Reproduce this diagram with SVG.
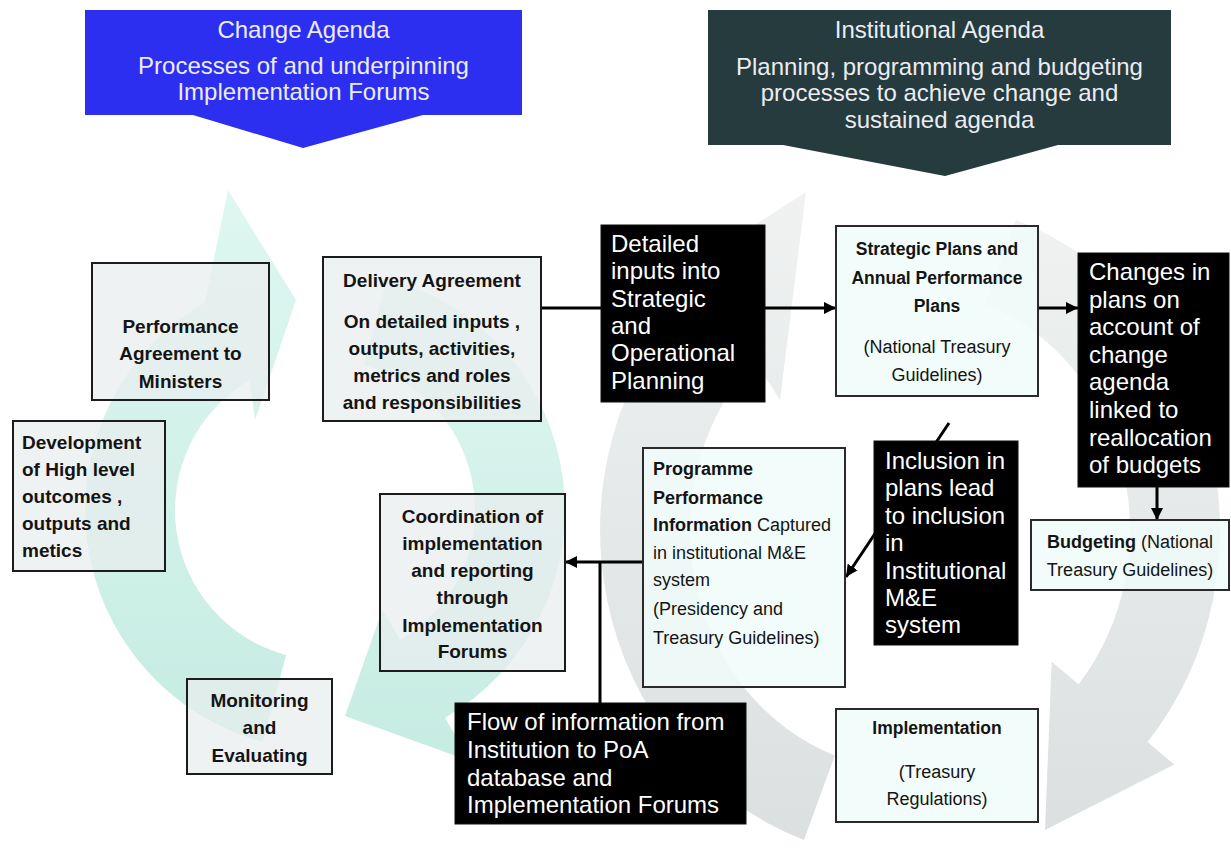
<svg xmlns="http://www.w3.org/2000/svg" width="1231" height="852" viewBox="0 0 1231 852">
<style>
text{font-family:"Liberation Sans",Arial,sans-serif}
.lb{font-size:19px;font-weight:bold;fill:#141414;text-anchor:middle}
.lbs{font-size:19px;font-weight:bold;fill:#141414}
.rb{font-size:17.5px;font-weight:bold;fill:#141414;text-anchor:middle}
.rr{font-size:18px;fill:#141414;text-anchor:middle}
.pr{font-size:18px;fill:#141414}
.wt{font-size:24px;fill:#ffffff}
.bn{font-size:24px;fill:#ececf4;text-anchor:middle}
.lbox{fill:#e9edee;fill-opacity:0.72;stroke:#1c1c1c;stroke-width:2}
.rbox{fill:#f0fbf9;fill-opacity:0.85;stroke:#2a2a2a;stroke-width:2}
.kbox{fill:#000;stroke:#111;stroke-width:1}
.conn{stroke:#000;stroke-width:3;fill:none}
</style>
<defs>
<marker id="ah" markerUnits="userSpaceOnUse" markerWidth="14" markerHeight="12" refX="12" refY="6" orient="auto">
<path d="M0,0 L12,6 L0,12 z" fill="#000"/>
</marker>
<linearGradient id="mint" x1="0" y1="0" x2="0" y2="1">
<stop offset="0" stop-color="#def7f1"/>
<stop offset="1" stop-color="#c6ece2"/>
</linearGradient>
<linearGradient id="grey" x1="0" y1="0" x2="0" y2="1">
<stop offset="0" stop-color="#f0f2f2"/>
<stop offset="1" stop-color="#dce0e0"/>
</linearGradient>
</defs>
<rect width="1231" height="852" fill="#ffffff"/>
<g id="background">
<path d="M286.2 654.9 L262.9 741.8 A240 240 0 0 1 205 302.2 L228 190 L296 300 L255 420 L250 380.1 A150 150 0 0 0 286.2 654.9 Z" fill="url(#mint)"/>
<path d="M363.8 365.1 L387.1 278.2 A240 240 0 0 1 445 717.8 L470 761.1 L345 716 L382.5 609.6 L400 639.9 A150 150 0 0 0 363.8 365.1 Z" fill="url(#mint)"/>
<path d="M834.8 755.5 L804 840.1 A310 330 0 0 1 690.8 296.7 L700 260 L806 192 L780 400 L754.4 360.3 A220 240 0 0 0 834.8 755.5 Z" fill="url(#grey)"/>
<path d="M985.2 304.5 L1016 219.9 A310 330 0 0 1 1147.5 742.1 L1174.3 764.6 L1045 830 L1051.7 661.8 L1078.5 684.3 A220 240 0 0 0 985.2 304.5 Z" fill="url(#grey)"/>
</g>
<g id="banner-change">
<polygon points="85,10 522,10 522,115 423,115 303,148 193,115 85,115" fill="#2d2ff0"/>
<text class="bn" x="303.5" y="38">Change Agenda</text>
<text class="bn" x="303.5" y="74">Processes of and underpinning</text>
<text class="bn" x="303.5" y="100">Implementation Forums</text>
</g>
<g id="banner-institutional">
<polygon points="708,10 1171,10 1171,145 1058,145 945,176 783,145 708,145" fill="#253b3d"/>
<text class="bn" x="939.5" y="38">Institutional Agenda</text>
<text class="bn" x="939.5" y="75">Planning, programming and budgeting</text>
<text class="bn" x="939.5" y="101">processes to achieve change and</text>
<text class="bn" x="939.5" y="128">sustained agenda</text>
</g>
<g id="connectors">
<path class="conn" d="M541 308 H601"/>
<path class="conn" d="M765 308 H836" marker-end="url(#ah)"/>
<path class="conn" d="M1038 308 H1078" marker-end="url(#ah)"/>
<path class="conn" d="M1157 487 V520" marker-end="url(#ah)"/>
<path class="conn" d="M949 423 L846 577" marker-end="url(#ah)"/>
<path class="conn" d="M643 562 H565" marker-end="url(#ah)"/>
<path class="conn" d="M600 562 V703"/>
</g>
<g id="performance">
<rect class="lbox" x="92" y="263" width="177" height="137"/>
<text class="lb" x="180.5" y="333">Performance</text>
<text class="lb" x="180.5" y="360">Agreement to</text>
<text class="lb" x="180.5" y="388">Ministers</text>
</g>
<g id="delivery">
<rect class="lbox" x="323" y="257" width="218" height="164"/>
<text class="lb" x="432" y="287">Delivery Agreement</text>
<text class="lb" x="432" y="328">On detailed inputs ,</text>
<text class="lb" x="432" y="355">outputs, activities,</text>
<text class="lb" x="432" y="382">metrics and roles</text>
<text class="lb" x="432" y="409">and responsibilities</text>
</g>
<g id="development">
<rect class="lbox" x="13" y="421" width="152" height="150"/>
<text class="lbs" x="22" y="449">Development</text>
<text class="lbs" x="22" y="476">of High level</text>
<text class="lbs" x="22" y="503">outcomes ,</text>
<text class="lbs" x="22" y="530">outputs and</text>
<text class="lbs" x="22" y="557">metics</text>
</g>
<g id="coordination">
<rect class="lbox" x="380" y="494" width="185" height="177"/>
<text class="lb" x="472.5" y="523">Coordination of</text>
<text class="lb" x="472.5" y="550">implementation</text>
<text class="lb" x="472.5" y="577">and reporting</text>
<text class="lb" x="472.5" y="604">through</text>
<text class="lb" x="472.5" y="632">Implementation</text>
<text class="lb" x="472.5" y="658">Forums</text>
</g>
<g id="monitoring">
<rect class="lbox" x="187" y="679" width="145" height="95"/>
<text class="lb" x="259.5" y="707">Monitoring</text>
<text class="lb" x="259.5" y="734">and</text>
<text class="lb" x="259.5" y="762">Evaluating</text>
</g>
<g id="detailed">
<rect class="kbox" x="601" y="225" width="164" height="177"/>
<text class="wt" x="611" y="252">Detailed</text>
<text class="wt" x="611" y="279">inputs into</text>
<text class="wt" x="611" y="307">Strategic</text>
<text class="wt" x="611" y="334">and</text>
<text class="wt" x="611" y="361">Operational</text>
<text class="wt" x="611" y="389">Planning</text>
</g>
<g id="strategic">
<rect class="rbox" x="836" y="226" width="202" height="170"/>
<text class="rb" x="937" y="255">Strategic Plans and</text>
<text class="rb" x="937" y="284">Annual Performance</text>
<text class="rb" x="937" y="312">Plans</text>
<text class="rr" x="937" y="353">(National Treasury</text>
<text class="rr" x="937" y="381">Guidelines)</text>
</g>
<g id="changes">
<rect class="kbox" x="1078" y="253" width="151" height="234"/>
<text class="wt" x="1089" y="280">Changes in</text>
<text class="wt" x="1089" y="308">plans on</text>
<text class="wt" x="1089" y="335">account of</text>
<text class="wt" x="1089" y="363">change</text>
<text class="wt" x="1089" y="390">agenda</text>
<text class="wt" x="1089" y="418">linked to</text>
<text class="wt" x="1089" y="446">reallocation</text>
<text class="wt" x="1089" y="473">of budgets</text>
</g>
<g id="budgeting">
<rect class="rbox" x="1031" y="520" width="198" height="70"/>
<text class="rr" x="1130" y="548"><tspan font-weight="bold">Budgeting</tspan> (National</text>
<text class="rr" x="1130" y="576">Treasury Guidelines)</text>
</g>
<g id="programme">
<rect class="rbox" x="643" y="448" width="202" height="239"/>
<text class="pr" x="653" y="475" font-weight="bold">Programme</text>
<text class="pr" x="653" y="504" font-weight="bold">Performance</text>
<text class="pr" x="653" y="531"><tspan font-weight="bold">Information</tspan> Captured</text>
<text class="pr" x="653" y="559">in institutional M&amp;E</text>
<text class="pr" x="653" y="586">system</text>
<text class="pr" x="653" y="615">(Presidency and</text>
<text class="pr" x="653" y="644">Treasury Guidelines)</text>
</g>
<g id="inclusion">
<rect class="kbox" x="874" y="441" width="144" height="204"/>
<text class="wt" x="885" y="469">Inclusion in</text>
<text class="wt" x="885" y="496">plans lead</text>
<text class="wt" x="885" y="524">to inclusion</text>
<text class="wt" x="885" y="551">in</text>
<text class="wt" x="885" y="579">Institutional</text>
<text class="wt" x="885" y="606">M&amp;E</text>
<text class="wt" x="885" y="633">system</text>
</g>
<g id="implementation">
<rect class="rbox" x="836" y="709" width="202" height="113"/>
<text class="rb" x="937" y="734" font-size="17">Implementation</text>
<text class="rr" x="937" y="778">(Treasury</text>
<text class="rr" x="937" y="805">Regulations)</text>
</g>
<g id="flow">
<rect class="kbox" x="455" y="703" width="291" height="121"/>
<text class="wt" x="467" y="730">Flow of information from</text>
<text class="wt" x="467" y="758">Institution to PoA</text>
<text class="wt" x="467" y="786">database and</text>
<text class="wt" x="467" y="813">Implementation Forums</text>
</g>
</svg>
